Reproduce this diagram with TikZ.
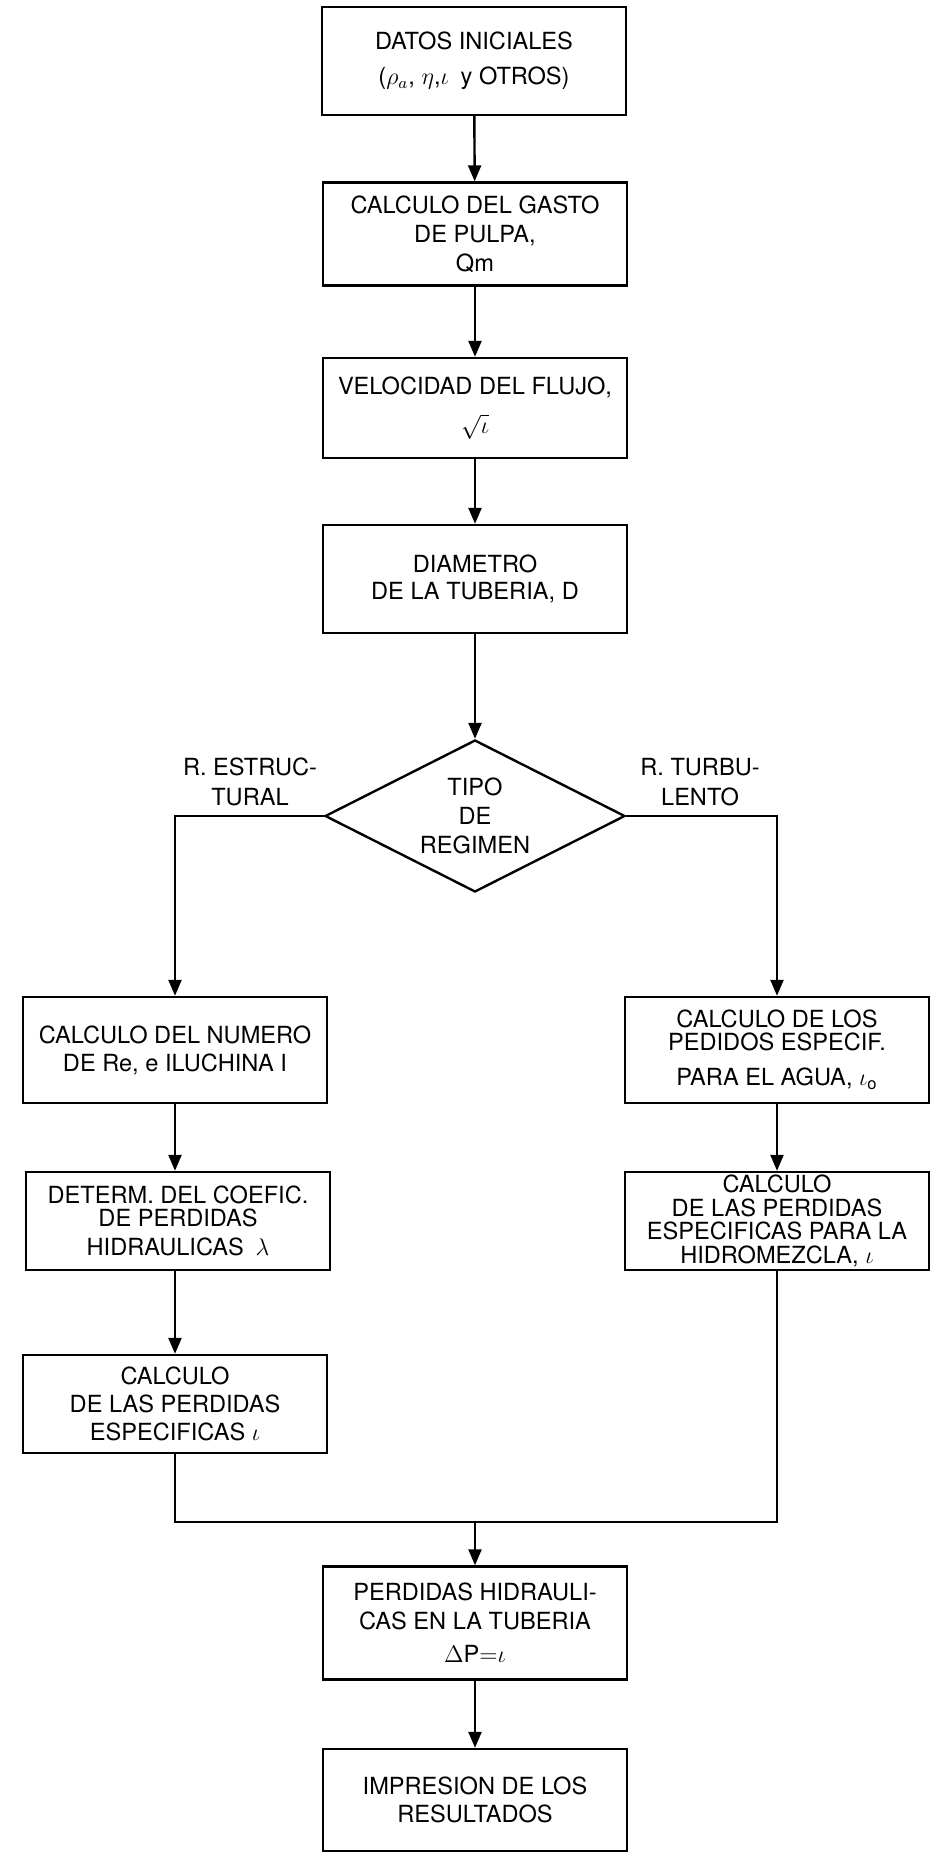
\documentclass[tikz,border=0pt]{standalone}
\usepackage{fontspec}
\setmainfont{TeX Gyre Heros}
\usetikzlibrary{shapes.geometric,arrows.meta}
\begin{document}
\begin{tikzpicture}[x=0.5pt,y=-0.5pt,line width=1.2pt,>={Triangle[length=8pt,width=6.5pt]},
	caja/.style={draw,rectangle,minimum width=152pt,inner sep=0pt,align=center,font=\fontsize{11.8}{14.5}\selectfont},
	decision/.style={draw,diamond,aspect=2,minimum width=150pt,minimum height=76pt,inner sep=0pt,align=center,font=\fontsize{11.8}{14.5}\selectfont},
	etiqueta/.style={align=center,font=\fontsize{11.8}{15}\selectfont}]
	\useasboundingbox (0,0) rectangle (931,1853);
	\node (datos) at (474,61) [caja,minimum height=54pt,font=\fontsize{11.8}{17.5}\selectfont] {DATOS INICIALES\\($\rho_{a}$, $\eta$,$\iota$\enspace y OTROS)};
	\node (gasto) at (475,234) [caja,minimum height=51.5pt] {CALCULO DEL GASTO\\DE PULPA,\\Qm};
	\node (velocidad) at (475,408) [caja,minimum height=50pt] {VELOCIDAD DEL FLUJO,\\[5pt]$\sqrt{\iota}$};
	\node (diametro) at (475,579) [caja,minimum height=54pt,font=\fontsize{11.8}{13.5}\selectfont] {DIAMETRO\\DE LA TUBERIA, D};
	\node (tipo) at (475,816) [decision] {TIPO\\DE\\REGIMEN};
	\node (lblestr) at (250,782) [etiqueta] {R. ESTRUC-\\TURAL};
	\node (lblturb) at (700,782) [etiqueta] {R. TURBU-\\LENTO};
	\node (numero) at (175,1050) [caja,minimum height=53pt,font=\fontsize{11.8}{14}\selectfont] {CALCULO DEL NUMERO\\DE Re, e ILUCHINA I};
	\node (pedidos) at (777,1050) [caja,minimum height=53pt,font=\fontsize{11.8}{11.5}\selectfont] {CALCULO DE LOS\\PEDIDOS ESPECIF.\\[6pt]PARA EL AGUA, $\iota_{\mathrm{o}}$};
	\node (determ) at (178,1221) [caja,minimum height=49pt,font=\fontsize{11.8}{11.5}\selectfont] {DETERM. DEL COEFIC.\\DE PERDIDAS\\[3pt]HIDRAULICAS\enspace$\lambda$};
	\node (hidromez) at (777,1221) [caja,minimum height=49pt,font=\fontsize{11.8}{11.8}\selectfont] {CALCULO\\DE LAS PERDIDAS\\ESPECIFICAS PARA LA\\HIDROMEZCLA, $\iota$};
	\node (espec) at (175,1404) [caja,minimum height=49pt,font=\fontsize{11.8}{14}\selectfont] {CALCULO\\DE LAS PERDIDAS\\ESPECIFICAS $\iota$};
	\coordinate (union) at (475,1522);
	\node (perdidas) at (475,1623) [caja,minimum height=56.5pt] {PERDIDAS HIDRAULI-\\CAS EN LA TUBERIA\\[2pt]$\Delta\mathrm{P}{=}\iota$};
	\node (impresion) at (475,1800) [caja,minimum height=51pt,font=\fontsize{11.8}{14}\selectfont] {IMPRESION DE LOS\\RESULTADOS};
	\draw [->] (datos) -- (gasto);
	\draw [->] (gasto) -- (velocidad);
	\draw [->] (velocidad) -- (diametro);
	\draw [->] (diametro) -- (tipo);
	\draw [->] (tipo.west) -| (numero.north);
	\draw [->] (tipo.east) -| (pedidos.north);
	\draw [->] (numero) -- (numero |- determ.north);
	\draw [->] (espec |- determ.south) -- (espec);
	\draw [->] (pedidos) -- (hidromez);
	\draw (espec) |- (union);
	\draw (hidromez) |- (union);
	\draw [->] (union) -- (perdidas);
	\draw [->] (perdidas) -- (impresion);
\end{tikzpicture}
\end{document}
